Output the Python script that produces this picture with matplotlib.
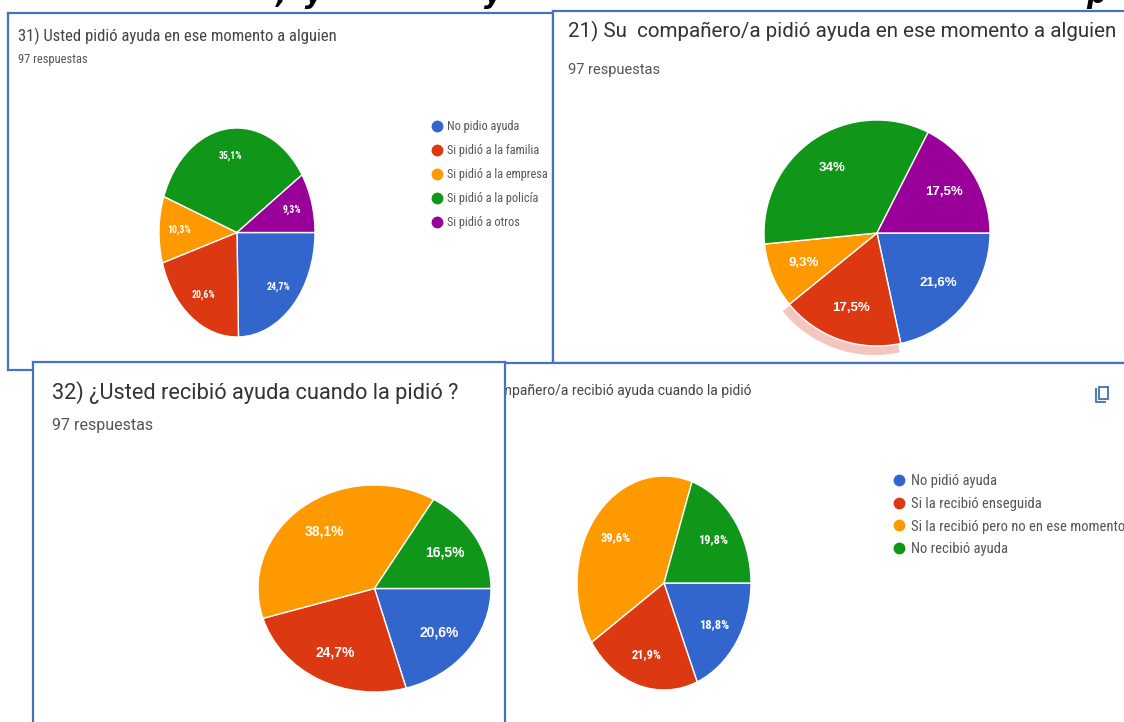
import numpy as np
import matplotlib
matplotlib.use("Agg")
import matplotlib.pyplot as plt
from matplotlib import font_manager
from matplotlib.lines import Line2D
from matplotlib.patches import Wedge, Rectangle

# Data (percent of answers, Google Forms)
colors5 = ['#3366cc', '#dc3912', '#ff9900', '#109618', '#990099']
colors4 = ['#3366cc', '#dc3912', '#ff9900', '#109618']

q31_labels = ['No pidio ayuda', 'Si pidió a la familia', 'Si pidió a la empresa',
              'Si pidió a la policía', 'Si pidió a otros']
q31_values = [24.7, 20.6, 10.3, 35.1, 9.3]

q21_values = [21.6, 17.5, 9.3, 34.0, 17.5]

q32_values = [20.6, 24.7, 38.1, 16.5]

q22_labels = ['No pidió ayuda', 'Si la recibió enseguida',
              'Si la recibió pero no en ese momento', 'No recibió ayuda']
q22_values = [18.8, 21.9, 39.6, 19.8]

title31 = '31) Usted pidió ayuda en ese momento a alguien'
title21 = '21) Su  compañero/a pidió ayuda en ese momento a alguien'
title32 = '32) ¿Usted recibió ayuda cuando la pidió ?'
title22 = '22) Su  compañero/a recibió ayuda cuando la pidió'
n_resp = '97 respuestas'

W, H = 1124, 722
fig = plt.figure(figsize=(W / 100, H / 100), dpi=100)
fig.patch.set_facecolor('white')

BORDER = '#4472c4'

# pick a narrow face if one is installed, else Liberation Sans
installed = {f.name for f in font_manager.fontManager.ttflist}
NARROW = 'Liberation Sans'
for cand in ['Liberation Sans Narrow', 'DejaVu Sans Condensed', 'Roboto Condensed',
             'Open Sans Condensed']:
    if cand in installed:
        NARROW = cand
        break


def box(x0, y0, x1, y1):
    return [x0 / W, 1 - y1 / H, (x1 - x0) / W, (y1 - y0) / H]


def fx(x):
    return x / W


def fy(y):
    return 1 - y / H


def panel(x0, y0, x1, y1, z):
    ax = fig.add_axes(box(x0, y0, x1, y1), zorder=z)
    ax.set_xticks([])
    ax.set_yticks([])
    ax.set_facecolor('white')
    for s in ax.spines.values():
        s.set_color(BORDER)
        s.set_linewidth(1.6)
    return ax


def pct(v):
    s = f'{v:.1f}'
    if s.endswith('.0'):
        s = s[:-2]
    return s.replace('.', ',') + '%'


def pie(x0, y0, x1, y1, z, values, colors, fontsize, family, r=0.7):
    ax = fig.add_axes(box(x0, y0, x1, y1), zorder=z)
    wedges, _ = ax.pie(values, colors=colors, startangle=0, counterclock=False,
                       wedgeprops=dict(edgecolor='white', linewidth=1.0))
    ax.set_aspect('auto')
    ax.set_xlim(-1, 1)
    ax.set_ylim(-1, 1)
    ax.axis('off')
    for w, v in zip(wedges, values):
        w.set_clip_on(False)
        a = np.deg2rad((w.theta1 + w.theta2) / 2)
        ax.text(r * np.cos(a), r * np.sin(a), pct(v), ha='center', va='center',
                color='white', fontsize=fontsize, fontweight='bold', family=family)
    return ax, wedges


def legend(ax, labels, colors, x, y, fontsize, spacing):
    handles = [Line2D([], [], ls='', marker='o', markersize=7.5, color=c) for c in colors]
    ax.legend(handles, labels, loc='upper left', bbox_to_anchor=(fx(x), fy(y)),
              bbox_transform=fig.transFigure, frameon=False,
              labelcolor='#555555', handletextpad=0.3, handlelength=1.0,
              labelspacing=spacing, borderaxespad=0, borderpad=0,
              prop=dict(family=NARROW, size=fontsize))


# clipped caption line at the very top
for x, s in [(276, ',  y'), (484, 'y'), (1086, 'p')]:
    fig.text(fx(x), fy(3), s, fontsize=20, fontweight='bold', style='italic',
             color='black', va='baseline', ha='left', zorder=0.5)

# --- panel 31 (top left)
panel(8, 13, 553, 370, 1)
fig.text(fx(18), fy(36), title31, fontsize=12, family=NARROW, color='#444444',
         va='center', zorder=1.5)
fig.text(fx(18), fy(59), n_resp, fontsize=9, family=NARROW, color='#555555',
         va='center', zorder=1.5)
ax31, _ = pie(159, 128, 315, 337, 2, q31_values, colors5, 7, NARROW, r=0.74)
legend(ax31, q31_labels, colors5, 431, 120, 8.8, 0.9)

# --- panel 21 (top right)
panel(553, 11, 1140, 363, 1)
fig.text(fx(568), fy(31), title21, fontsize=14.8, family='Roboto', color='#333333',
         va='center', zorder=1.5)
fig.text(fx(568), fy(70), n_resp, fontsize=10.5, family='Roboto', color='#555555',
         va='center', zorder=1.5)
ax21, w21 = pie(764, 120, 990, 346, 2, q21_values, colors5, 9.5, 'Liberation Sans')
# hover shadow under the selected slice
ax21.add_patch(Wedge((-0.02, -0.03), 1.05, w21[1].theta1, w21[1].theta2,
                     facecolor='#f3c6c0', edgecolor='none', zorder=0, clip_on=False))

# --- panel 22 (bottom right, partly hidden)
panel(420, 363, 1140, 740, 3)
fig.text(fx(751), fy(391), title22, fontsize=10, family='Roboto', color='#444444',
         va='center', ha='right', zorder=3.5)
fig.patches.append(Rectangle((fx(1099), fy(399)), 9 / W, 12 / H, transform=fig.transFigure,
                             facecolor='none', edgecolor='#5b7bb5', lw=1.5, zorder=3.5))
fig.lines.append(Line2D([fx(1096), fx(1096), fx(1105)], [fy(389), fy(402), fy(402)],
                        transform=fig.transFigure, color='#5b7bb5', lw=1.5, zorder=3.5))
ax22, _ = pie(577, 476, 751, 690, 4, q22_values, colors4, 9, NARROW)
legend(ax22, q22_labels, colors4, 892, 474, 10.5, 0.6)

# --- panel 32 (bottom left, on top)
panel(33, 362, 505, 740, 5)
fig.text(fx(52), fy(393), title32, fontsize=15.7, family='Roboto', color='#333333',
         va='center', zorder=5.5)
fig.text(fx(52), fy(425), n_resp, fontsize=11.5, family='Roboto', color='#555555',
         va='center', zorder=5.5)
pie(258, 485, 491, 692, 6, q32_values, colors4, 10, 'Liberation Sans')

fig.savefig('out.png', dpi=100, facecolor='white')
